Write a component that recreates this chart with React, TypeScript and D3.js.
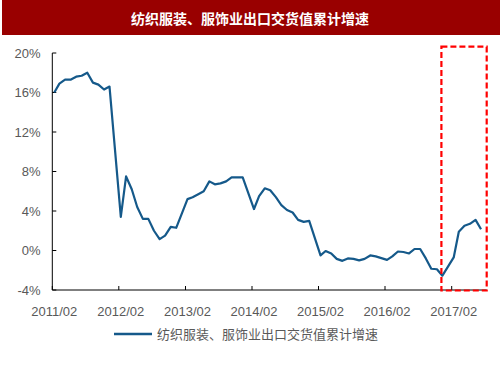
import * as d3 from 'd3';

// months without January (Jan+Feb reported together)
const months = [
  '2011/02', '2011/03', '2011/04', '2011/05', '2011/06', '2011/07', '2011/08', '2011/09', '2011/10', '2011/11', '2011/12',
  '2012/02', '2012/03', '2012/04', '2012/05', '2012/06', '2012/07', '2012/08', '2012/09', '2012/10', '2012/11', '2012/12',
  '2013/02', '2013/03', '2013/04', '2013/05', '2013/06', '2013/07', '2013/08', '2013/09', '2013/10', '2013/11', '2013/12',
  '2014/02', '2014/03', '2014/04', '2014/05', '2014/06', '2014/07', '2014/08', '2014/09', '2014/10', '2014/11', '2014/12',
  '2015/02', '2015/03', '2015/04', '2015/05', '2015/06', '2015/07', '2015/08', '2015/09', '2015/10', '2015/11', '2015/12',
  '2016/02', '2016/03', '2016/04', '2016/05', '2016/06', '2016/07', '2016/08', '2016/09', '2016/10', '2016/11', '2016/12',
  '2017/02', '2017/03', '2017/04', '2017/05', '2017/06', '2017/07',
];

const growth = [
  16.0, 16.9, 17.3, 17.3, 17.6, 17.7, 18.0, 17.0, 16.8, 16.3, 16.6,
  3.4, 7.5, 6.2, 4.4, 3.2, 3.2, 2.0, 1.15, 1.5, 2.4, 2.3,
  5.2, 5.4, 5.7, 6.0, 7.0, 6.7, 6.8, 7.0, 7.4, 7.4, 7.4,
  4.2, 5.5, 6.3, 6.1, 5.4, 4.6, 4.1, 3.85, 3.1, 2.9, 3.0,
  -0.5, -0.05, -0.3, -0.85, -1.05, -0.8, -0.85, -1.0, -0.85, -0.5, -0.6,
  -0.95, -0.6, -0.1, -0.15, -0.3, 0.15, 0.15, -0.8, -1.85, -1.9, -2.55,
  -0.7, 1.9, 2.5, 2.7, 3.1, 2.15,
];

const yTicks = [-4, 0, 4, 8, 12, 16, 20];
const xTickLabels = ['2011/02', '2012/02', '2013/02', '2014/02', '2015/02', '2016/02', '2017/02'];
const highlight = ['2016/12', '2017/08'];

const title = '纺织服装、服饰业出口交货值累计增速';
const seriesName = '纺织服装、服饰业出口交货值累计增速';

const W = 500;
const H = 375;
const labelFont = '"Liberation Sans", Arial, sans-serif';
const cjkFont = '"Noto Sans CJK SC", sans-serif';
const gray = '#595959';
const lineColor = '#15598a';

const parse = (s: string, day = 1) => {
  const [y, m] = s.split('/').map(Number);
  return new Date(y, m - 1, day);
};

export default function App() {
  const x = d3.scaleTime()
    .domain([parse('2011/02'), parse('2017/02')])
    .range([52.3, 451.7]);
  const y = d3.scaleLinear().domain([-4, 20]).range([290, 53]);

  const data = months.map((m, i) => ({ date: parse(m, 12), v: growth[i] }));
  const line = d3.line<{ date: Date; v: number }>()
    .x(d => x(d.date))
    .y(d => y(d.v));

  const boxX0 = x(parse(highlight[0], 12)) - 1;
  const boxX1 = 486.7;

  return (
    <svg width={W} height={H} style={{ position: 'absolute', left: 0, top: 0, background: '#fff' }}>
      <rect x={2} y={0} width={498} height={35} fill="#990000" />
      <text x={250} y={24} textAnchor="middle" fill="#fff" fontSize={14} fontWeight="bold" fontFamily={cjkFont}>
        {title}
      </text>

      {/* y axis */}
      <line x1={x.range()[0]} x2={x.range()[0]} y1={y(20)} y2={y(-4)} stroke="#000" strokeWidth={1} />
      {yTicks.map(t => (
        <g key={t}>
          <line x1={x.range()[0]} x2={x.range()[0] + 4} y1={y(t)} y2={y(t)} stroke="#000" />
          <text x={40.5} y={y(t)} dy="0.35em" textAnchor="end" fill={gray} fontSize={13} fontFamily={labelFont}>
            {t}%
          </text>
        </g>
      ))}

      {/* x axis */}
      <line x1={x.range()[0]} x2={boxX1} y1={y(-4)} y2={y(-4)} stroke="#000" strokeWidth={1} />
      {xTickLabels.map(l => (
        <g key={l}>
          <line x1={x(parse(l))} x2={x(parse(l))} y1={y(-4)} y2={y(-4) - 4} stroke="#000" />
          <text x={x(parse(l)) + 2} y={311} dy="0.35em" textAnchor="middle" fill={gray} fontSize={13} fontFamily={labelFont}>
            {l}
          </text>
        </g>
      ))}

      <path d={line(data) ?? ''} fill="none" stroke={lineColor} strokeWidth={2.2} strokeLinejoin="round" />

      {/* highlight box */}
      <rect x={boxX0} y={46.7} width={boxX1 - boxX0} height={290.5 - 46.7}
        fill="none" stroke="#ff0000" strokeWidth={2.2} strokeDasharray="6 3" />

      {/* legend */}
      <line x1={114} x2={152} y1={334} y2={334} stroke={lineColor} strokeWidth={2.5} />
      <text x={157} y={334} dy="0.35em" fill={gray} fontSize={13} fontFamily={cjkFont}>
        {seriesName}
      </text>
    </svg>
  );
}
